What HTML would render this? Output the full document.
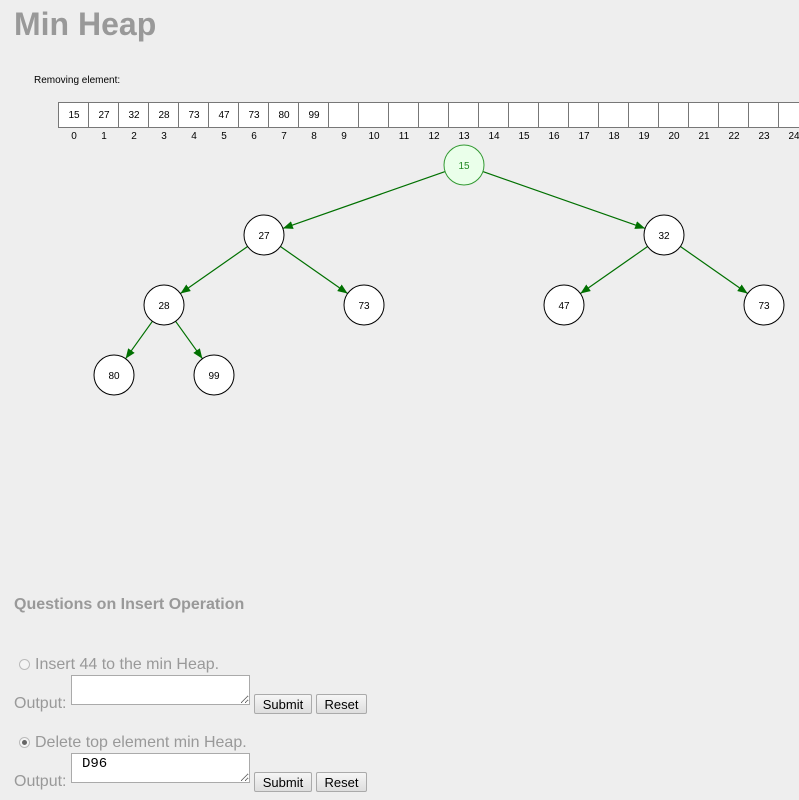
<!DOCTYPE html>
<html><head><meta charset="utf-8"><style>
body{margin:0;background:#eeeeee;font-family:"Liberation Sans",Arial,sans-serif;width:799px;height:800px;overflow:hidden;position:relative}
.a{position:absolute}
h1{position:absolute;left:14px;top:6px;margin:0;font-size:32px;color:#999;font-weight:bold}
.q{color:#999;font-size:16px}
textarea{position:absolute;width:179px;height:30px;border:1px solid #aaa;background:#fff;font-family:"Liberation Mono",monospace;font-size:14px;padding:2px 10px;box-sizing:border-box;resize:both;margin:0}
.btn{position:absolute;height:20px;border:1px solid #aaa;border-radius:2px;background:linear-gradient(#f6f6f6,#dedede);font-size:13px;color:#000;text-align:center;line-height:19px;box-sizing:border-box}
.radio{position:absolute;width:11px;height:11px;border:1px solid #bbb;border-radius:50%;background:#f4f4f4;box-sizing:border-box}
</style></head><body>
<h1>Min Heap</h1>
<div class="a" style="left:34px;top:75px;font-size:10px;color:#000">Removing element:</div>
<svg class="a" style="left:0;top:0" width="799" height="420" font-family="Liberation Sans, Arial, sans-serif">
<defs><marker id="ar" markerWidth="10" markerHeight="8" refX="10" refY="4" orient="auto" markerUnits="userSpaceOnUse"><path d="M0,0 L10,4 L0,8 z" fill="#007000"/></marker></defs>
<g stroke="#777" fill="#fff">
<rect x="58.5" y="102.5" width="30" height="25"/><rect x="88.5" y="102.5" width="30" height="25"/><rect x="118.5" y="102.5" width="30" height="25"/><rect x="148.5" y="102.5" width="30" height="25"/><rect x="178.5" y="102.5" width="30" height="25"/><rect x="208.5" y="102.5" width="30" height="25"/><rect x="238.5" y="102.5" width="30" height="25"/><rect x="268.5" y="102.5" width="30" height="25"/><rect x="298.5" y="102.5" width="30" height="25"/><rect x="328.5" y="102.5" width="30" height="25"/><rect x="358.5" y="102.5" width="30" height="25"/><rect x="388.5" y="102.5" width="30" height="25"/><rect x="418.5" y="102.5" width="30" height="25"/><rect x="448.5" y="102.5" width="30" height="25"/><rect x="478.5" y="102.5" width="30" height="25"/><rect x="508.5" y="102.5" width="30" height="25"/><rect x="538.5" y="102.5" width="30" height="25"/><rect x="568.5" y="102.5" width="30" height="25"/><rect x="598.5" y="102.5" width="30" height="25"/><rect x="628.5" y="102.5" width="30" height="25"/><rect x="658.5" y="102.5" width="30" height="25"/><rect x="688.5" y="102.5" width="30" height="25"/><rect x="718.5" y="102.5" width="30" height="25"/><rect x="748.5" y="102.5" width="30" height="25"/><rect x="778.5" y="102.5" width="30" height="25"/>
</g>
<g font-size="10" text-anchor="middle" fill="#000">
<text x="74" y="118">15</text><text x="104" y="118">27</text><text x="134" y="118">32</text><text x="164" y="118">28</text><text x="194" y="118">73</text><text x="224" y="118">47</text><text x="254" y="118">73</text><text x="284" y="118">80</text><text x="314" y="118">99</text>
<text x="74" y="139">0</text><text x="104" y="139">1</text><text x="134" y="139">2</text><text x="164" y="139">3</text><text x="194" y="139">4</text><text x="224" y="139">5</text><text x="254" y="139">6</text><text x="284" y="139">7</text><text x="314" y="139">8</text><text x="344" y="139">9</text><text x="374" y="139">10</text><text x="404" y="139">11</text><text x="434" y="139">12</text><text x="464" y="139">13</text><text x="494" y="139">14</text><text x="524" y="139">15</text><text x="554" y="139">16</text><text x="584" y="139">17</text><text x="614" y="139">18</text><text x="644" y="139">19</text><text x="674" y="139">20</text><text x="704" y="139">21</text><text x="734" y="139">22</text><text x="764" y="139">23</text><text x="794" y="139">24</text>
</g>
<g stroke="#007000" stroke-width="1.2" marker-end="url(#ar)">
<line x1="445.1" y1="171.6" x2="282.9" y2="228.4"/><line x1="482.9" y1="171.6" x2="645.1" y2="228.4"/>
<line x1="247.6" y1="246.5" x2="180.4" y2="293.5"/><line x1="280.4" y1="246.5" x2="347.6" y2="293.5"/>
<line x1="647.6" y1="246.5" x2="580.4" y2="293.5"/><line x1="680.4" y1="246.5" x2="747.6" y2="293.5"/>
<line x1="152.4" y1="321.3" x2="125.6" y2="358.7"/><line x1="175.6" y1="321.3" x2="202.4" y2="358.7"/>
</g>
<circle cx="464" cy="165" r="20" fill="#eaffea" stroke="#339933"/>
<text x="464" y="169" font-size="10" text-anchor="middle" fill="#228822">15</text>
<g fill="#fff" stroke="#000">
<circle cx="264" cy="235" r="20"/><circle cx="664" cy="235" r="20"/><circle cx="164" cy="305" r="20"/><circle cx="364" cy="305" r="20"/><circle cx="564" cy="305" r="20"/><circle cx="764" cy="305" r="20"/><circle cx="114" cy="375" r="20"/><circle cx="214" cy="375" r="20"/>
</g>
<g font-size="10" text-anchor="middle" fill="#000">
<text x="264" y="239">27</text><text x="664" y="239">32</text><text x="164" y="309">28</text><text x="364" y="309">73</text><text x="564" y="309">47</text><text x="764" y="309">73</text><text x="114" y="379">80</text><text x="214" y="379">99</text>
</g>
</svg>
<div class="a" style="left:14px;top:596px;font-size:16px;font-weight:bold;color:#999">Questions on Insert Operation</div>
<div class="radio" style="left:19px;top:659px"></div>
<div class="a q" style="left:35px;top:656px">Insert 44 to the min Heap.</div>
<div class="a q" style="left:14px;top:695px">Output:</div>
<textarea style="left:71px;top:675px"></textarea>
<div class="btn" style="left:254px;top:694px;width:58px">Submit</div>
<div class="btn" style="left:316px;top:694px;width:51px">Reset</div>
<div class="radio" style="left:19px;top:737px"><div style="position:absolute;left:2px;top:2px;width:5px;height:5px;border-radius:50%;background:#666"></div></div>
<div class="a q" style="left:35px;top:734px">Delete top element min Heap.</div>
<div class="a q" style="left:14px;top:773px">Output:</div>
<textarea style="left:71px;top:753px">D96</textarea>
<div class="btn" style="left:254px;top:772px;width:58px">Submit</div>
<div class="btn" style="left:316px;top:772px;width:51px">Reset</div>
</body></html>
